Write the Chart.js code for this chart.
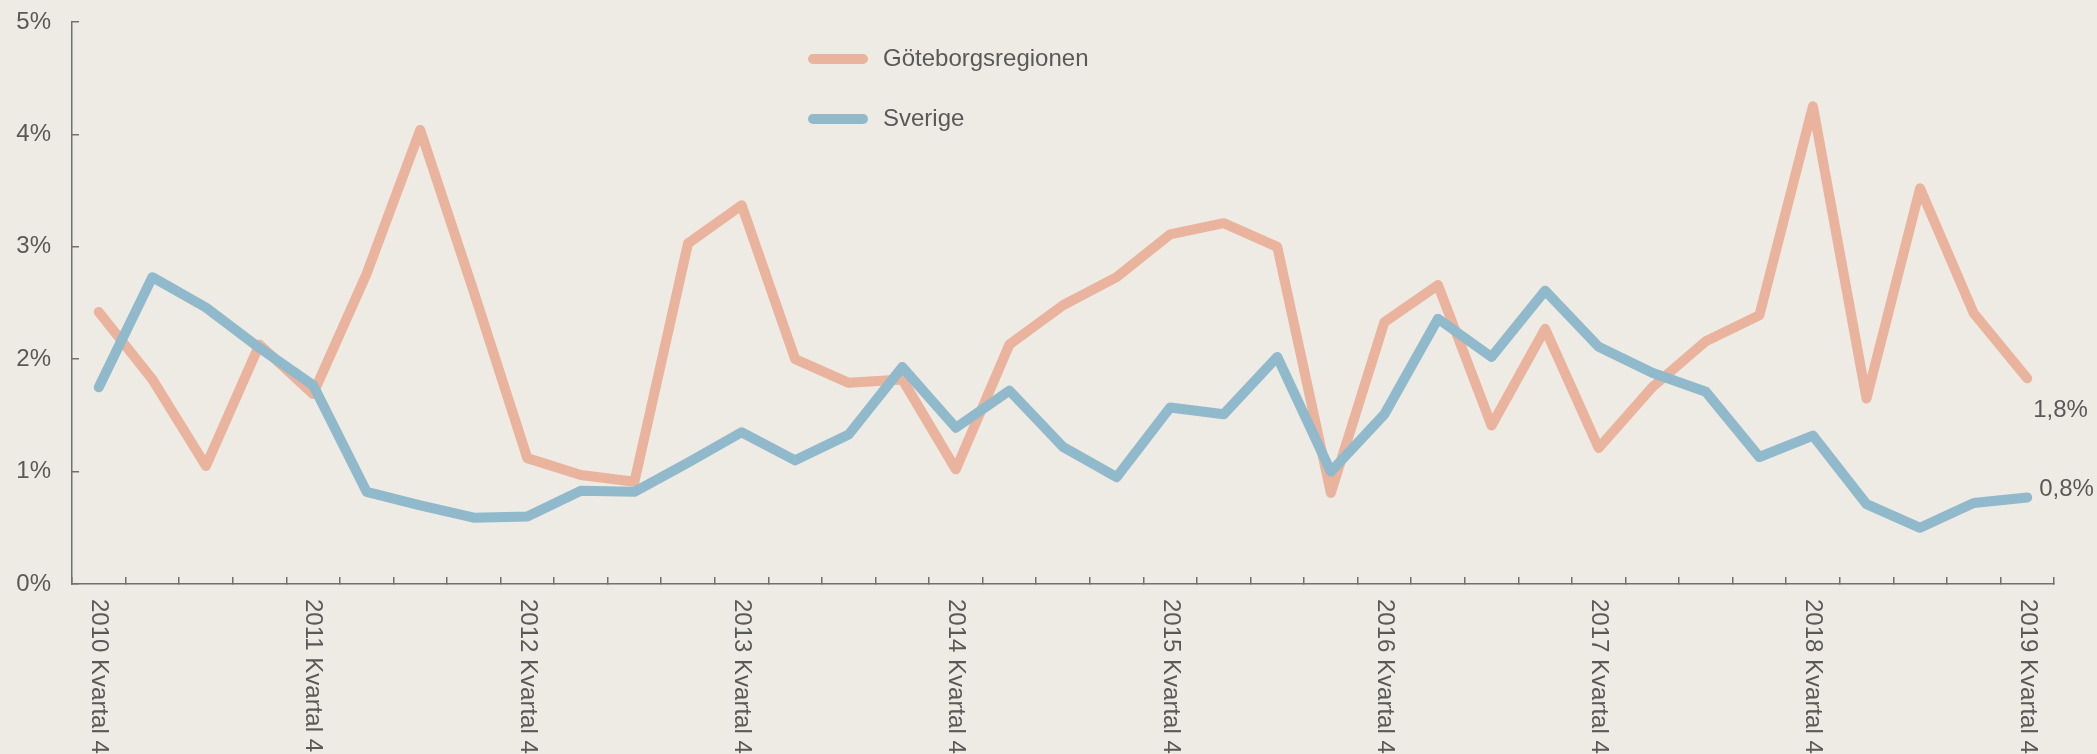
<!DOCTYPE html>
<html lang="sv">
<head>
<meta charset="utf-8">
<title>Göteborgsregionen och Sverige</title>
<script src="https://cdn.jsdelivr.net/npm/chart.js@4.4.1/dist/chart.umd.min.js"></script>
<style>
  html, body { margin: 0; padding: 0; background: #eeebe4; }
  #wrap { width: 2097px; height: 754px; }
</style>
</head>
<body>
<div id="wrap"><canvas id="chart"></canvas></div>
<script>
// ---- 1. DATA --------------------------------
// one category per quarter, 2010 Q4 to 2019 Q4
const quarters = [
  "2010 Kvartal 4",
  "2011 Kvartal 1", "2011 Kvartal 2", "2011 Kvartal 3", "2011 Kvartal 4",
  "2012 Kvartal 1", "2012 Kvartal 2", "2012 Kvartal 3", "2012 Kvartal 4",
  "2013 Kvartal 1", "2013 Kvartal 2", "2013 Kvartal 3", "2013 Kvartal 4",
  "2014 Kvartal 1", "2014 Kvartal 2", "2014 Kvartal 3", "2014 Kvartal 4",
  "2015 Kvartal 1", "2015 Kvartal 2", "2015 Kvartal 3", "2015 Kvartal 4",
  "2016 Kvartal 1", "2016 Kvartal 2", "2016 Kvartal 3", "2016 Kvartal 4",
  "2017 Kvartal 1", "2017 Kvartal 2", "2017 Kvartal 3", "2017 Kvartal 4",
  "2018 Kvartal 1", "2018 Kvartal 2", "2018 Kvartal 3", "2018 Kvartal 4",
  "2019 Kvartal 1", "2019 Kvartal 2", "2019 Kvartal 3", "2019 Kvartal 4"
];

// annual change in percent
const goteborg = [
  2.42, 1.82, 1.05, 2.13, 1.69, 2.76, 4.04, 2.60, 1.12, 0.97,
  0.91, 3.03, 3.37, 2.00, 1.79, 1.82, 1.02, 2.13, 2.48, 2.73,
  3.11, 3.21, 3.00, 0.81, 2.33, 2.66, 1.41, 2.27, 1.21, 1.75,
  2.16, 2.39, 4.25, 1.65, 3.52, 2.41, 1.83
];
const sverige = [
  1.75, 2.73, 2.46, 2.10, 1.77, 0.82, 0.70, 0.59, 0.60, 0.83,
  0.82, 1.08, 1.35, 1.10, 1.33, 1.93, 1.39, 1.72, 1.22, 0.95,
  1.57, 1.51, 2.02, 1.00, 1.51, 2.36, 2.02, 2.61, 2.11, 1.88,
  1.71, 1.13, 1.32, 0.71, 0.50, 0.72, 0.77
];

// y axis ticks
const yTicks = [0, 1, 2, 3, 4, 5];

const seriesNames = ["Göteborgsregionen", "Sverige"];
const seriesColors = ["#eab39d", "#90b9cb"];

const FONT = "'Liberation Sans', Arial, sans-serif";
const TEXT = "#595959";
const AXIS = "#707070";

// ---- 2. PLUGINS -----------------------------
// x labels read top-to-bottom, so draw them by hand (every 4th quarter)
const xLabels = {
  id: "xLabels",
  afterDraw(chart) {
    const ctx = chart.ctx;
    const x = chart.scales.x;
    ctx.save();
    ctx.font = "24px " + FONT;
    ctx.fillStyle = TEXT;
    ctx.textAlign = "left";
    ctx.textBaseline = "middle";
    quarters.forEach((q, i) => {
      if (i % 4 !== 0) return;
      ctx.save();
      ctx.translate(x.getPixelForValue(i), x.top + 15);
      ctx.rotate(Math.PI / 2);
      ctx.fillText(q, 0, 0);
      ctx.restore();
    });
    ctx.restore();
  }
};

// legend near top centre + value labels at the line ends
const extras = {
  id: "extras",
  afterDraw(chart) {
    const ctx = chart.ctx;
    ctx.save();
    ctx.font = "24px " + FONT;
    ctx.fillStyle = TEXT;
    ctx.textBaseline = "middle";
    ctx.lineCap = "round";
    ctx.lineWidth = 10;
    seriesNames.forEach((name, i) => {
      const y = 59 + i * 60;
      ctx.strokeStyle = seriesColors[i];
      ctx.beginPath();
      ctx.moveTo(813, y);
      ctx.lineTo(863, y);
      ctx.stroke();
      ctx.fillText(name, 883, y);
    });

    // end labels
    const offsets = [[6, 32], [12, -8]];
    chart.data.datasets.forEach((ds, i) => {
      const meta = chart.getDatasetMeta(i);
      const last = meta.data[meta.data.length - 1];
      const v = ds.data[ds.data.length - 1];
      const txt = v.toFixed(1).replace(".", ",") + "%";
      ctx.fillText(txt, last.x + offsets[i][0], last.y + offsets[i][1]);
    });
    ctx.restore();
  }
};

// ---- 3. LINE CHART --------------------------
const ctx = document.getElementById("chart").getContext("2d");

new Chart(ctx, {
  type: "line",
  data: {
    labels: quarters,
    datasets: [
      {
        label: seriesNames[0],
        data: goteborg,
        borderColor: seriesColors[0],
        order: 1,
      },
      {
        label: seriesNames[1],
        data: sverige,
        borderColor: seriesColors[1],
        order: 0, // blue sits on top of orange
      },
    ],
  },
  options: {
    responsive: true,
    maintainAspectRatio: false,
    animation: false,
    layout: { padding: { top: 22, right: 43, left: 0, bottom: 0 } },
    elements: {
      line: {
        borderWidth: 10,
        tension: 0,
        borderCapStyle: "round",
        borderJoinStyle: "round",
      },
      point: { radius: 0, hoverRadius: 0 },
    },
    scales: {
      x: {
        offset: true,
        grid: {
          offset: true,
          drawOnChartArea: false,
          drawTicks: true,
          tickLength: -7,   // tick marks point up into the plot
          color: AXIS,
          lineWidth: 1.5,
        },
        border: { display: true, color: AXIS, width: 1.5 },
        ticks: { display: false },
        afterFit(scale) { scale.height = 170; },
      },
      y: {
        min: 0,
        max: 5,
        afterBuildTicks(scale) {
          scale.ticks = yTicks.map(v => ({ value: v }));
        },
        grid: {
          drawOnChartArea: false,
          drawTicks: true,
          tickLength: -7,
          color: AXIS,
          lineWidth: 1.5,
        },
        border: { display: true, color: AXIS, width: 1.5 },
        ticks: {
          padding: 28,
          color: TEXT,
          font: { family: FONT, size: 24 },
          callback: v => v + "%",
        },
        afterFit(scale) {
          scale.width = 72;
          // label padding would otherwise push the plot down
          scale.paddingTop = 0;
          scale.paddingBottom = 0;
        },
      },
    },
    plugins: {
      legend: { display: false },
      tooltip: { enabled: false },
    },
  },
  plugins: [xLabels, extras],
});
</script>
</body>
</html>
